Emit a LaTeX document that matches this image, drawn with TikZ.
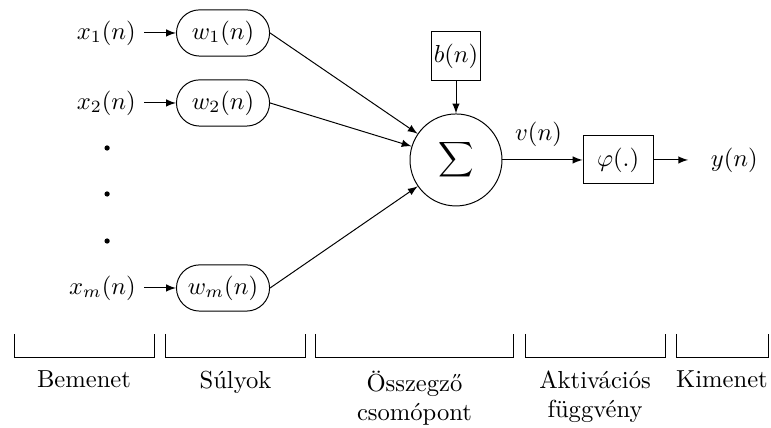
\documentclass[tikz,border=0pt]{standalone}
\usepackage{tikz}
\usepackage{mathtools}
\usetikzlibrary{shapes,positioning}

\begin{document}
\begin{tikzpicture}[
      weight/.style={rectangle, rounded corners=0.33cm, draw, minimum width=1.33cm, minimum height=0.66cm, inner sep=2pt},
      block/.style={rectangle, draw, minimum height=0.686cm, inner sep=1pt},
      arr/.style={-latex},
      part/.style={anchor=north, align=center}
    ]
      \useasboundingbox (0,0) rectangle (11.014,6.114);

      % sulyok es bemenetek
      \node[weight] (w1) at (3.186,5.643) {$w_1(n)$};
      \node[weight] (w2) at (3.186,4.643) {$w_2(n)$};
      \node[weight] (wm) at (3.186,2.0) {$w_m(n)$};

      \node (x1) [left=0.45cm of w1] {$x_1(n)$};
      \node (x2) [left=0.45cm of w2] {$x_2(n)$};
      \node (xm) [left=0.45cm of wm] {$x_m(n)$};
      \draw[arr] (x1) -- (w1);
      \draw[arr] (x2) -- (w2);
      \draw[arr] (xm) -- (wm);

      \draw[fill] (1.53,4.0) circle [radius=0.03];
      \draw[fill] (1.53,3.343) circle [radius=0.03];
      \draw[fill] (1.53,2.671) circle [radius=0.03];

      % osszegzo csomopont
      \node[circle, draw, minimum size=1.314cm, inner sep=0pt] (sum) at (6.514,3.829) {$\displaystyle\sum$};
      \node[block, minimum width=0.686cm] (b) at (6.514,5.314) {$b(n)$};
      \draw[arr] (w1.east) -- (sum);
      \draw[arr] (w2.east) -- (sum);
      \draw[arr] (wm.east) -- (sum);
      \draw[arr] (b) -- (sum);

      % aktivacios fuggveny
      \node[block, minimum width=1.0cm] (phi) at (8.829,3.829) {$\varphi(.)$};
      \draw[arr] (sum) -- node[above, pos=0.45, yshift=2pt] (v) {$v(n)$} (phi);
      \coordinate (out) at (9.83,3.829);
      \draw[arr] (phi) -- (out);
      \node (y) [right=0.2cm of out] {$y(n)$};

      % also feliratok
      \draw (0.2,1.343) |- (2.2,1.014) -- (2.2,1.343);
      \draw (2.371,1.343) |- (4.357,1.014) -- (4.357,1.343);
      \draw (4.514,1.343) |- (7.329,1.014) -- (7.329,1.343);
      \draw (7.5,1.343) |- (9.5,1.014) -- (9.5,1.343);
      \draw (9.657,1.343) |- (10.971,1.014) -- (10.971,1.343);

      \node[part] (bem) at (1.2,0.943) {Bemenet};
      \node[part] (suly) at (3.364,0.943) {Súlyok};
      \node[part] (ossz) at (5.921,0.943) {Összegző\\csomópont};
      \node[part] (akt) at (8.5,0.943) {Aktivációs\\függvény};
      \node[part] (kim) at (10.314,0.943) {Kimenet};
\end{tikzpicture}
\end{document}
